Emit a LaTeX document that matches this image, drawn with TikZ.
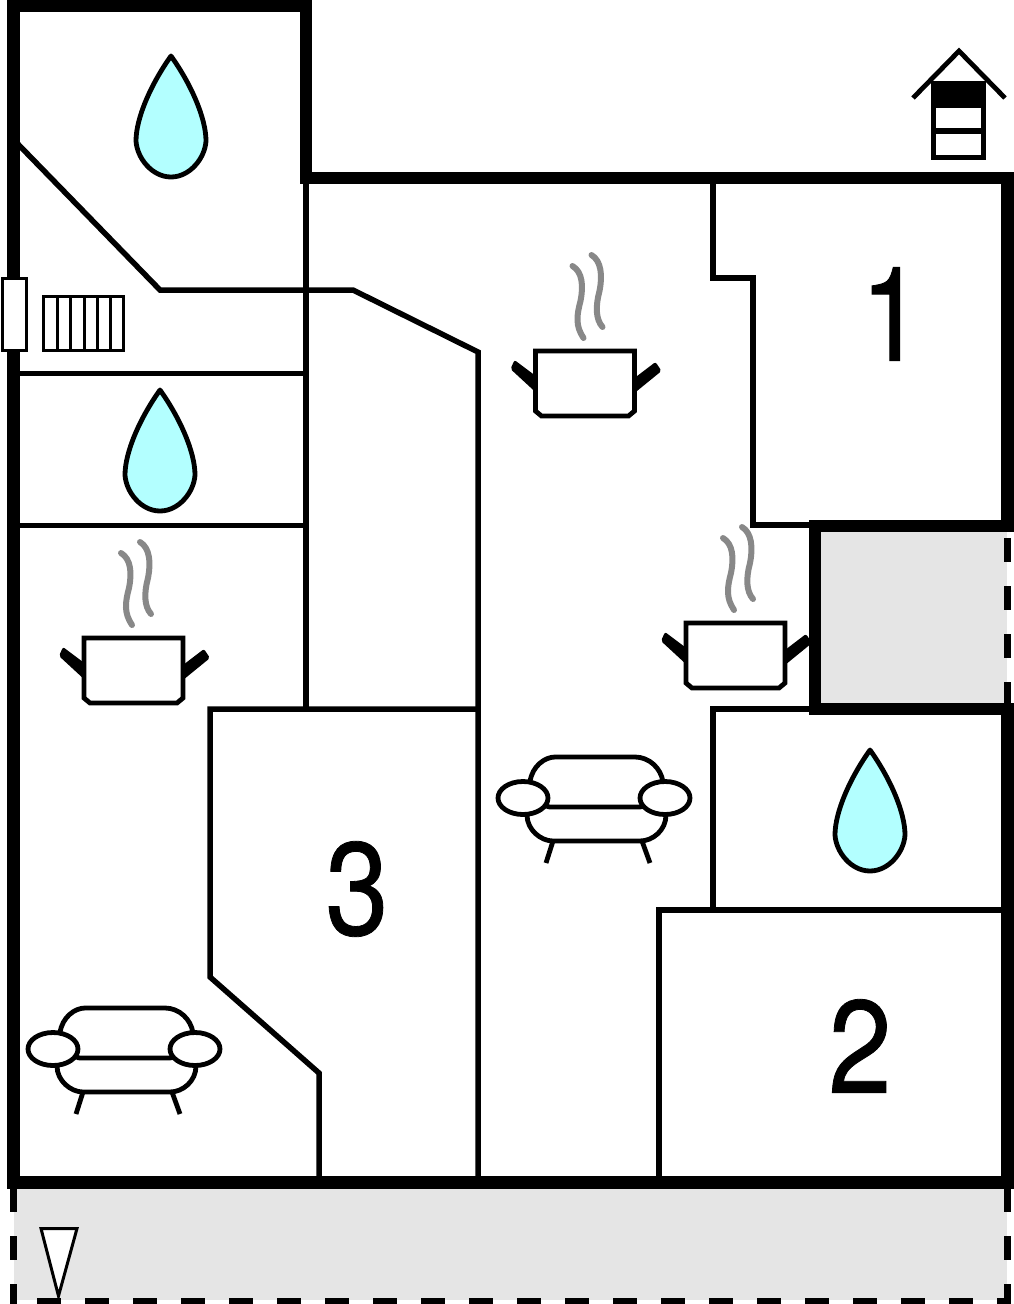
\documentclass[tikz,border=0pt]{standalone}
\usepackage{fontspec}
\setmainfont{TeX Gyre Heros}
\newfontfamily\digitfont[FakeStretch=0.86,FakeBold=0.6]{TeX Gyre Heros}
\definecolor{yardgrey}{HTML}{E5E5E5}
\definecolor{steamgrey}{HTML}{888888}
\definecolor{dropblue}{HTML}{B3FFFF}
\tikzset{
  x=1pt,y=-1pt,
  thickwall/.style={line width=12.5pt,line cap=butt,line join=miter},
  wallten/.style={line width=11.5pt,line cap=butt,line join=miter},
  thinwall/.style={line width=5.5pt,line cap=butt,line join=miter},
  dashwall/.style={line width=7pt,dash pattern=on 24pt off 24pt},
  iconline/.style={line width=4.8pt,line join=round},
  fineline/.style={line width=3pt},
  steamline/.style={line width=6pt,color=steamgrey,line cap=round},
  digit/.style={font=\digitfont\fontsize{132}{132}\selectfont,inner sep=0pt,anchor=center},
  drop/.pic={
    \draw[iconline,fill=dropblue] (35,0) .. controls (15,28) and (0,62) .. (0,85)
      .. controls (1,102) and (16,121) .. (35,121)
      .. controls (54,121) and (69,102) .. (70,85)
      .. controls (70,62) and (55,28) .. (35,0) -- cycle;
  },
  pot/.pic={
    \fill[black,rounded corners=2pt] (-25,18) -- (-21,9) -- (3,27) -- (1,42) -- cycle;
    \fill[black,rounded corners=2pt] (99,27) -- (120,11) -- (126,20) -- (99,42) -- cycle;
    \draw[iconline,fill=white,line join=miter] (0,0) -- (99,0) -- (99,60) -- (93,65) -- (6,65) -- (0,60) -- cycle;
    \draw[steamline] (37,-85) .. controls (47,-79) and (48,-65) .. (45,-50) .. controls (41,-35) and (40,-25) .. (48,-13);
    \draw[steamline] (56,-96) .. controls (66,-90) and (67,-75) .. (64,-60) .. controls (60,-45) and (60,-32) .. (67,-24);
  },
  sofa/.pic={
    \draw[iconline] (7,-16) .. controls (9,-32) and (22,-41) .. (32,-41) -- (112,-41) .. controls (126,-41) and (138,-30) .. (140,-16);
    \draw[iconline] (22,7) .. controls (25,9) .. (30,9) -- (114,9) .. controls (118,9) .. (122,7);
    \draw[iconline] (4,17) .. controls (4,32) and (18,43) .. (30,43) -- (117,43) .. controls (130,43) and (143,32) .. (143,17);
    \draw[iconline] (30,43) -- (23,65);
    \draw[iconline] (119,43) -- (127,65);
    \draw[iconline,fill=white] (0,0) ellipse [x radius=25,y radius=16.5];
    \draw[iconline,fill=white] (142,0) ellipse [x radius=25,y radius=16.5];
  }
}
\begin{document}
\begin{tikzpicture}
\useasboundingbox (0,0) rectangle (1013,1304);
\fill[white] (0,0) rectangle (1013,1304);
% grey outdoor areas
\fill[yardgrey] (14,1188) rectangle (1007,1300);
\fill[yardgrey] (821,532) rectangle (1007,703);
% dashed outlines
\draw[dashwall] (13.5,1188) -- (13.5,1304);
\draw[dashwall] (1007,1188) -- (1007,1304);
\draw[dashwall] (37,1301) -- (1010.5,1301);
\draw[dashwall] (1007,538) -- (1007,703);
% thin walls
\draw[thinwall] (14,140) -- (160,290) -- (353,290) -- (478,352) -- (478,1182);
\draw[thinwall] (306,178) -- (306,709);
\draw[thinwall] (14,373.5) -- (306,373.5);
\draw[thinwall] (14,525.5) -- (306,525.5);
\draw[thinwall] (478,709) -- (210,709) -- (210,977) -- (319,1073) -- (319,1182);
\draw[thinwall] (713,178) -- (713,278) -- (753,278) -- (753,525) -- (816,525);
\draw[thinwall] (816,709) -- (713,709) -- (713,910);
\draw[thinwall] (1007,910) -- (659,910) -- (659,1182);
% thick walls
\draw[thickwall] (13.5,1188) -- (13.5,6) -- (306,6) -- (306,183);
\draw[wallten] (300,178) -- (1007,178);
\draw[thickwall] (1007.5,172.2) -- (1007.5,526) -- (815,526) -- (815,709) -- (1007.5,709) -- (1007.5,1182.5) -- (7,1182.5);
% window and radiator
\draw[fineline,fill=white] (2,278) rectangle (26,350);
\draw[fineline] (43,296) rectangle (123,350);
\foreach \xa in {57,70,84,97,110} \draw[fineline] (\xa,296) -- (\xa,350);
% house icon
\draw[iconline,line join=miter] (913,98) -- (959,51) -- (1005,98);
\fill[black] (931,81) rectangle (986,160);
\fill[white] (936,108) rectangle (981,128);
\fill[white] (936,133.5) rectangle (981,155);
% entrance triangle
\draw[fineline,fill=white,line join=miter] (41,1228.5) -- (77,1228.5) -- (58.5,1296) -- cycle;
% drops
\pic at (136,56) {drop};
\pic at (125,390) {drop};
\pic at (835,750) {drop};
% pots
\pic at (535.5,351) {pot};
\pic at (84,638) {pot};
\pic at (686,623) {pot};
% sofas
\pic at (523,798) {sofa};
\pic at (53,1049) {sofa};
% room numbers
\node[digit] (roomone) at (892,314) {1};
\node[digit] (roomthree) at (357,889) {3};
\node[digit] (roomtwo) at (860,1046) {2};
\end{tikzpicture}
\end{document}
